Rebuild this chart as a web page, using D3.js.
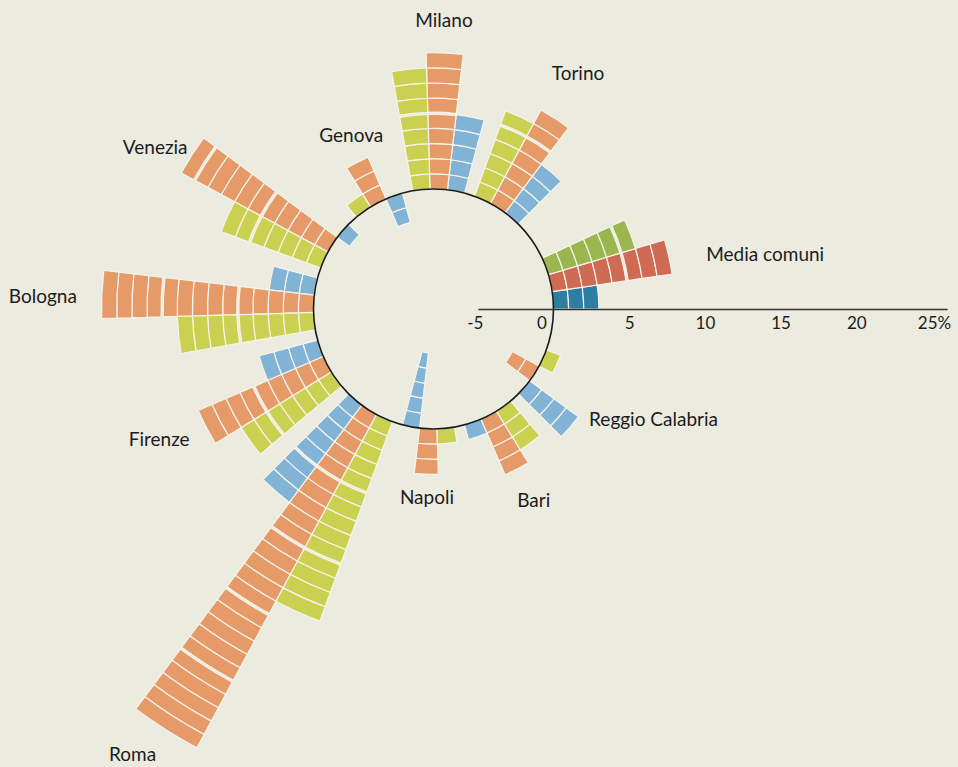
<!DOCTYPE html>
<html><head><meta charset="utf-8">
<script src="https://cdn.jsdelivr.net/npm/d3@7"></script>
<style>
html,body{margin:0;padding:0;background:#ecebe0;}
svg{display:block;}
text{font-family:Lato,"Noto Sans",sans-serif;fill:#1c1c1c;}
</style></head><body>
<svg id="chart" width="958" height="767"></svg>
<script>
// ---- data ----
const cities = ["Media comuni","Torino","Milano","Genova","Venezia","Bologna","Firenze","Roma","Napoli","Bari","Reggio Calabria"];
const seriesBlue   = [3, 4, 5, -2, -1, 3, 4, 8, -5, 1, 4];
const seriesOrange = [8, 7, 9, 3, 11, 14, 9, 25, 3, 4, -2];
const seriesGreen  = [6, 6, 8, 1, 7, 9, 7, 14, 1, 3, 1];
const tickValues = [-5, 0, 5, 10, 15, 20, 25];
const tickLabels = ["-5", "0", "5", "10", "15", "20", "25%"];

// ---- styles / layout ----
const colors = ["#80b3d5", "#e69a68", "#cad150"];
const colorsAvg = ["#2e7ea3", "#cf6b55", "#9bb64f"];
const labelNudge = [[8,4],[7,-20],[-2,-3],[8,0],[21,8],[5,3],[10,-2],[-17,0],[2,-7],[3,5],[-22,-3]];

const W = 958, H = 767, cx = 433.5, cy = 309;
const svg = d3.select("#chart");

const rScale = d3.scaleLinear().domain([0, 25]).range([120, 120 + 25 * 15.14]);
const angleScale = d3.scaleLinear().domain([0, 12]).range([0, 360]); // degrees, CCW from east
const groupPos = i => i === 0 ? 0 : i + 0.5;
const barU = (25 / 30) / 3;
const series = [seriesBlue, seriesOrange, seriesGreen];
const rad = d => d * Math.PI / 180;

const arc = d3.arc();
const g = svg.append("g").attr("transform", `translate(${cx},${cy})`);

const blocks = [];
cities.forEach((c, i) => {
  series.forEach((vals, s) => {
    const v = vals[i];
    const n = Math.abs(v), sign = Math.sign(v);
    const t1 = angleScale(groupPos(i) + s * barU);
    const t2 = angleScale(groupPos(i) + (s + 1) * barU);
    const gap = 1.1;
    for (let k = 0; k < n; k++) {
      let near = rScale(sign * k), far = rScale(sign * (k + 1));
      const dir = sign; // far - near direction
      if ((k + 1) % 5 === 0 && k + 1 < n) far -= dir * gap;
      if (k % 5 === 0 && k > 0) near += dir * gap;
      blocks.push({
        innerRadius: Math.min(near, far),
        outerRadius: Math.max(near, far),
        startAngle: rad(90 - t2),
        endAngle: rad(90 - t1),
        fill: i === 0 ? colorsAvg[s] : colors[s]
      });
    }
  });
});

g.selectAll("path.block").data(blocks).join("path")
  .attr("class", "block")
  .attr("d", d => arc(d))
  .attr("fill", d => d.fill)
  .attr("stroke", "#f6f4ec")
  .attr("stroke-width", 1.2);

g.append("circle").attr("r", rScale(0))
  .attr("fill", "none").attr("stroke", "#1a1a1a").attr("stroke-width", 1.6);

// axis
const xAxisScale = d3.scaleLinear().domain([-5, 26]).range([cx + rScale(-5), cx + rScale(26)]);
const axis = d3.axisBottom(xAxisScale).tickValues(tickValues).tickSize(0).tickSizeOuter(0)
  .tickPadding(8).tickFormat((d, i) => tickLabels[i]);
const ax = svg.append("g").attr("transform", `translate(0,${cy})`).call(axis);
ax.select(".domain").attr("stroke", "#333").attr("stroke-width", 1.5);
ax.selectAll("text").attr("font-size", 17).attr("font-family", "Lato, 'Noto Sans', sans-serif")
  .attr("fill", "#1c1c1c")
  .attr("dx", d => d === 0 ? -12 : (d === 25 ? 2 : (d === -5 ? -3 : 0)));

// labels
cities.forEach((c, i) => {
  const vmax = Math.max(seriesBlue[i], seriesOrange[i], seriesGreen[i]);
  const mid = angleScale(groupPos(i) + 1.5 * barU);
  const r = rScale(vmax) + 30;
  const co = Math.cos(rad(mid)), si = Math.sin(rad(mid));
  const anchor = co >= 0.8 ? "start" : (co <= -0.8 ? "end" : "middle");
  svg.append("text")
    .attr("x", cx + r * co + labelNudge[i][0])
    .attr("y", cy - r * si + labelNudge[i][1])
    .attr("dy", "0.35em")
    .attr("text-anchor", anchor)
    .attr("font-size", 19)
    .text(c);
});
</script>
</body></html>
